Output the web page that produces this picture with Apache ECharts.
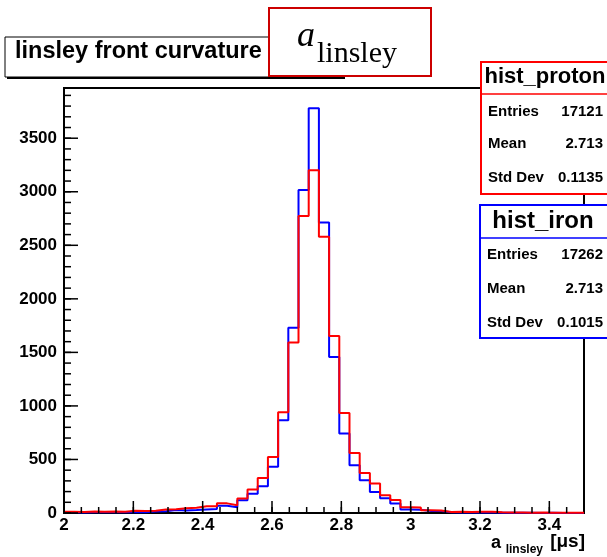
<!DOCTYPE html>
<html>
<head>
<meta charset="utf-8">
<script src="https://cdn.jsdelivr.net/npm/echarts@6/dist/echarts.min.js"></script>
<style>
  html, body { margin: 0; padding: 0; background: #fff; }
  #chart { width: 607px; height: 557px; }
</style>
</head>
<body>
<div id="chart"></div>
<script>
// Histogram binning: 51 equal bins between 2 and 3.5 µs
const HIST_MIN = 2;
const HIST_MAX = 3.5;

// Bin contents, iron showers (blue)
const ironCounts = [
  6, 5, 7, 6, 8, 6, 9, 8, 14, 16,
  27, 24, 28, 33, 37, 67, 54, 118, 180, 250,
  431, 866, 1729, 3016, 3779, 2714, 1458, 742, 446, 306,
  196, 138, 88, 32, 30, 19, 18, 6, 5, 7,
  4, 8, 3, 2, 3, 2, 1, 2, 1, 1,
  1
];

// Bin contents, proton showers (red)
const protonCounts = [
  12, 10, 14, 11, 13, 12, 20, 18, 22, 33,
  36, 45, 48, 62, 64, 90, 72, 135, 219, 327,
  523, 941, 1593, 2773, 3200, 2579, 1654, 935, 561, 374,
  275, 165, 122, 54, 52, 25, 24, 10, 12, 9,
  11, 12, 8, 5, 4, 3, 4, 2, 3, 2,
  2
];

// Axis tick labels
const xTickLabels = [2, 2.2, 2.4, 2.6, 2.8, 3, 3.2, 3.4];
const yTickLabels = [0, 500, 1000, 1500, 2000, 2500, 3000, 3500];
const Y_MAX = 3969;

// Statistics boxes
const protonStatNames = ['Entries', 'Mean', 'Std Dev'];
const protonStatValues = ['17121', '2.713', '0.1135'];
const ironStatNames = ['Entries', 'Mean', 'Std Dev'];
const ironStatValues = ['17262', '2.713', '0.1015'];

// Turn bin contents into [lowEdge, content] points for a step outline
function toSteps(counts) {
  const w = (HIST_MAX - HIST_MIN) / counts.length;
  const pts = counts.map((c, i) => [HIST_MIN + i * w, c]);
  pts.push([HIST_MAX, counts[counts.length - 1]]);
  return pts;
}

// Evenly spaced minor tick positions
function minorTicks(min, max, step) {
  const out = [];
  const n = Math.round((max - min) / step);
  for (let i = 0; i <= n; i++) out.push(+(min + i * step).toFixed(6));
  return out;
}

const SANS = '"Liberation Sans", Arial, Helvetica, sans-serif';
const SERIF = '"Liberation Serif", "DejaVu Serif", serif';

const chart = echarts.init(document.getElementById('chart'), null, { renderer: 'canvas' });

function statBox(left, top, sepY, bottom, color, title, titleX, titleY, titleSize, names, values, rowYs) {
  const els = [
    { type: 'rect', z: 110, shape: { x: left, y: top, width: 200, height: bottom - top },
      style: { fill: '#fff', stroke: color, lineWidth: 2 } },
    { type: 'line', z: 111, shape: { x1: left, y1: sepY, x2: left + 200, y2: sepY },
      style: { stroke: color, lineWidth: 1.5 } },
    { type: 'text', z: 112, style: { text: title, x: titleX, y: titleY, align: 'center', verticalAlign: 'middle',
      font: 'bold ' + titleSize + 'px ' + SANS, fill: '#000' } }
  ];
  names.forEach((n, i) => {
    els.push({ type: 'text', z: 112, style: { text: n, x: left + 7, y: rowYs[i], align: 'left', verticalAlign: 'middle',
      font: 'bold 15px ' + SANS, fill: '#000' } });
    els.push({ type: 'text', z: 112, style: { text: values[i], x: 603, y: rowYs[i], align: 'right', verticalAlign: 'middle',
      font: 'bold 15px ' + SANS, fill: '#000' } });
  });
  return els;
}

const plainNumber = v => String(v);

const baseGraphics = [
  // title pave with shadow
  { type: 'rect', z: 100, shape: { x: 7, y: 39, width: 338, height: 40 }, style: { fill: '#000' } },
  { type: 'rect', z: 101, shape: { x: 5, y: 37, width: 338, height: 40 },
    style: { fill: '#fff', stroke: '#000', lineWidth: 1 } },
  { type: 'text', z: 102, style: { text: 'linsley front curvature', x: 15, y: 52, align: 'left',
    verticalAlign: 'middle', font: 'bold 23.5px ' + SANS, fill: '#000' } },
  // variable name box
  { type: 'rect', z: 103, shape: { x: 269, y: 8, width: 162, height: 68 },
    style: { fill: '#fff', stroke: '#cc0000', lineWidth: 2 } },
  { type: 'text', z: 104, style: { text: 'a', x: 297, y: 37, align: 'left', verticalAlign: 'middle',
    font: 'italic 36px ' + SERIF, fill: '#000' } },
  { type: 'text', z: 104, style: { text: 'linsley', x: 317, y: 54, align: 'left', verticalAlign: 'middle',
    font: '30px ' + SERIF, fill: '#000' } },
  // x axis title
  { type: 'text', z: 104, style: { text: 'a', x: 501, y: 543, align: 'right', verticalAlign: 'middle',
    font: 'bold 18px ' + SANS, fill: '#000' } },
  { type: 'text', z: 104, style: { text: 'linsley', x: 543, y: 550, align: 'right', verticalAlign: 'middle',
    font: 'bold 12px ' + SANS, fill: '#000' } },
  { type: 'text', z: 104, style: { text: '[\u03bcs]', x: 585, y: 542, align: 'right', verticalAlign: 'middle',
    font: 'bold 19px ' + SANS, fill: '#000' } }
]
  .concat(statBox(481, 62, 94, 194, '#ff0000', 'hist_proton', 545, 77, 22,
    protonStatNames, protonStatValues, [112, 144, 178]))
  .concat(statBox(480, 205, 238, 338, '#0000ff', 'hist_iron', 543, 221, 24,
    ironStatNames, ironStatValues, [255, 289, 323]));

const option = {
  animation: false,
  backgroundColor: '#fff',
  grid: {
    left: 64, top: 88, width: 520, height: 425,
    show: true, borderColor: '#000', borderWidth: 2, backgroundColor: 'transparent'
  },
  xAxis: {
    type: 'value', min: HIST_MIN, max: HIST_MAX, position: 'bottom',
    splitLine: { show: false },
    axisLine: { show: true, onZero: false, lineStyle: { color: '#000', width: 2 } },
    axisTick: { show: false },
    axisLabel: { show: true, customValues: xTickLabels, formatter: plainNumber, margin: 4, color: '#000',
      fontFamily: SANS, fontWeight: 'bold', fontSize: 17 }
  },
  yAxis: {
    type: 'value', min: 0, max: Y_MAX, position: 'left',
    splitLine: { show: false },
    axisLine: { show: true, onZero: false, lineStyle: { color: '#000', width: 2 } },
    axisTick: { show: false },
    axisLabel: { show: true, customValues: yTickLabels, formatter: plainNumber, margin: 7, color: '#000',
      fontFamily: SANS, fontWeight: 'bold', fontSize: 17 }
  },
  series: [
    {
      name: 'hist_iron', type: 'line', step: 'end', symbol: 'none', silent: true,
      lineStyle: { color: '#0000ff', width: 2 },
      data: toSteps(ironCounts), z: 3
    },
    {
      name: 'hist_proton', type: 'line', step: 'end', symbol: 'none', silent: true,
      lineStyle: { color: '#ff0000', width: 2 },
      data: toSteps(protonCounts), z: 4
    }
  ],
  graphic: baseGraphics
};

chart.setOption(option);

// Inward tick marks, placed with the grid's own value-to-pixel conversion
function tickGraphics(values, dim, len) {
  return values.map(v => {
    const p = chart.convertToPixel({ gridIndex: 0 }, dim === 'x' ? [v, 0] : [HIST_MIN, v]);
    const shape = dim === 'x'
      ? { x1: p[0], y1: p[1], x2: p[0], y2: p[1] - len }
      : { x1: p[0], y1: p[1], x2: p[0] + len, y2: p[1] };
    return { type: 'line', z: 50, shape: shape, style: { stroke: '#000', lineWidth: 1.5 } };
  });
}

const ticks = []
  .concat(tickGraphics(xTickLabels, 'x', 12))
  .concat(tickGraphics(minorTicks(2, 3.45, 0.05), 'x', 6))
  .concat(tickGraphics(yTickLabels, 'y', 14))
  .concat(tickGraphics(minorTicks(0, 3900, 100), 'y', 7));

chart.setOption({ graphic: baseGraphics.concat(ticks) });
</script>
</body>
</html>
